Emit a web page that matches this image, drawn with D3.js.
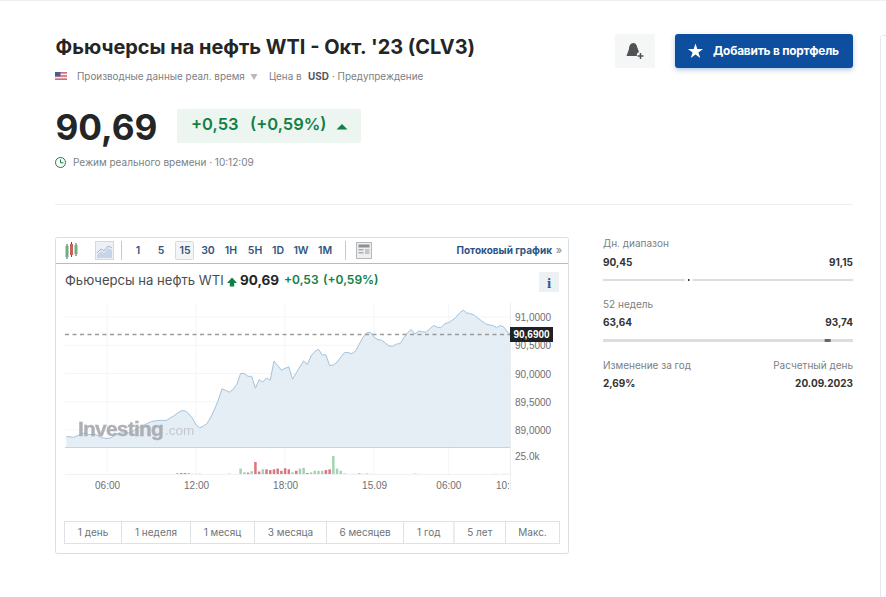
<!DOCTYPE html>
<html><head><meta charset="utf-8">
<script src="https://cdn.jsdelivr.net/npm/d3@7"></script>
<style>
html,body{margin:0;padding:0;background:#fff;overflow:hidden}
svg{display:block}
text{font-family:Inter,"Noto Sans",sans-serif}
.ax text{font-family:"Liberation Sans",Arial,sans-serif}
</style></head><body><svg id="c" width="886" height="597"></svg>
<script>
// bar index (15-minute bars) : prices, bars 1..121
const prices = [88.88,88.88,88.87,88.90,88.93,88.95,88.92,88.92,88.92,88.88,88.86,88.85,88.86,88.90,88.93,88.95,88.95,88.95,88.98,89.02,
89.06,89.09,89.12,89.15,89.16,89.17,89.17,89.17,89.21,89.25,89.30,89.34,89.34,89.29,89.21,89.09,89.04,89.07,89.12,89.23,
89.37,89.53,89.73,89.70,89.67,89.72,89.81,90.00,90.00,89.95,89.95,89.74,89.89,89.85,89.92,89.88,90.22,90.14,90.06,90.09,
90.12,89.90,90.01,90.12,90.22,90.16,90.31,90.39,90.43,90.33,90.33,90.14,90.15,90.20,90.29,90.37,90.37,90.35,90.40,90.52,
90.64,90.72,90.73,90.64,90.60,90.59,90.54,90.49,90.48,90.52,90.53,90.63,90.72,90.78,90.70,90.75,90.74,90.73,90.79,90.85,
90.82,90.81,90.88,90.90,90.94,90.99,91.07,91.12,91.07,91.06,91.03,90.98,90.93,90.88,90.86,90.85,90.81,90.85,90.82,90.73,90.69];
// volume in thousands per bar
const volumes = [.3,.2,.2,.3,.2,.4,.3,.2,.2,.2,.2,.2,.2,.2,.2,.2,.2,.2,.2,.2,
.2,.2,.3,.3,.4,.5,.5,.5,.6,.6,1.5,2,2,1.5,.8,.8,1,.6,.4,.5,
.4,.5,.8,.6,1,.5,.8,8,3,2.5,4.5,17,4,7,7,6,7,8,5,8.5,
7,3,5,8,9,2,3,5,5,5,6,7,25,8,5,1.5,.8,.8,1,2,
1,1.5,1,.6,.3,.2,.2,.2,.2,.3,.3,.2,.2,.2,1,1,.3,.6,.6,.8,
.4,.3,.3,.3,.5,.5,.2,.2,.2,.3,.3,.2,.3,.2,.2,.8,.8,.4,.9,.8,.2];
// 1 = up bar, 0 = down bar
const volumeUp = [1,1,0,1,1,1,0,0,1,0,0,0,1,1,1,1,1,1,1,1,
1,1,1,1,1,1,1,1,1,1,0,0,0,0,0,0,0,1,1,1,
1,1,1,0,0,1,1,1,1,0,1,0,0,1,0,0,0,0,0,0,
0,1,0,1,1,0,1,1,1,1,0,0,1,1,1,1,1,0,1,1,
1,1,1,0,0,0,0,0,0,1,1,1,1,1,0,1,0,0,1,1,
0,0,1,1,1,1,1,1,0,0,0,0,0,0,0,0,0,1,0,0,0];
const timeTicks = [12,36,60,84,104,120.1];
const timeLabels = ["06:00","12:00","18:00","15.09","06:00","10:00"];
const priceTicks = [89,89.5,90,90.5,91];
const volumeTicks = [25];
const lastPrice = 90.69;
const intervals = ["1","5","15","30","1H","5H","1D","1W","1M"];
const intervalX = [138,161,185,208,231,255,278,301,325];
const ranges = ["1 день","1 неделя","1 месяц","3 месяца","6 месяцев","1 год","5 лет","Макс."];
const rangeEdges = [64.5,121.5,190.5,254.5,326.5,403.5,454,505.5,559.5];
const dayRange = [90.45,91.15];
const weekRange = [63.64,93.74];

const svg = d3.select("#c");
const defs = svg.append("defs");
defs.append("clipPath").attr("id","plot").append("rect").attr("x",65).attr("y",295).attr("width",445).attr("height",200);
const shadow = defs.append("filter").attr("id","sh").attr("x","-10%").attr("y","-20%").attr("width","120%").attr("height","150%");
shadow.append("feDropShadow").attr("dx",0).attr("dy",2).attr("stdDeviation",2.5).attr("flood-color","#0f4f9e").attr("flood-opacity",.3);

function txt(s,x,y,size,fill,opt={}){
  return svg.append("text").attr("x",x).attr("y",y).attr("font-size",size).attr("fill",fill)
    .attr("font-weight",opt.w||400).attr("text-anchor",opt.a||"start")
    .attr("letter-spacing",opt.ls||null).style("font-family",opt.f||null).text(s);
}
function rect(x,y,w,h,fill,opt={}){
  return svg.append("rect").attr("x",x).attr("y",y).attr("width",w).attr("height",h).attr("fill",fill)
    .attr("rx",opt.r||0).attr("stroke",opt.s||"none").attr("stroke-width",opt.sw||1);
}
const green="#128045", grey="#7b7f83", dark="#232526";

// page frame bits
svg.append("line").attr("x1",0).attr("x2",886).attr("y1",0.5).attr("y2",0.5).attr("stroke","#eceff1");
svg.append("path").attr("d","M886,35.5H882.5a2,2 0 0 0 -2,2V597").attr("fill","none").attr("stroke","#e6e9eb");

// header
txt("Фьючерсы на нефть WTI - Окт. '23 (CLV3)",55.5,54,19.95,dark,{w:700});
rect(55,72,12,8,"#e9eef5");
rect(55,72,12,1.6,"#d96a72");rect(55,75.2,12,1.6,"#d96a72");rect(55,78.4,12,1.6,"#d96a72");
rect(55,72,5.5,4.4,"#4a5d94");
txt("Производные данные реал. время",77,80,9.9,grey);
svg.append("path").attr("d",d3.symbol(d3.symbolTriangle,22)()).attr("transform","translate(254,76) rotate(180)").attr("fill","#b6babd");
txt("Цена в",269,80,9.9,grey);
txt("USD",308,80,9.9,"#53575a",{w:700});
txt("· Предупреждение",332,80,9.9,grey);

rect(615,34,40,34,"#f5f6f6",{r:2});
svg.append("path").attr("d","M633.5,43c-3,0 -4.5,3 -4.5,6l-2.5,7h10.5c-.6,-1.5 0,-3.5 2,-4l-1.5,-4c-.4,-2 -1.5,-5 -4,-5z").attr("fill","#4f5356");
svg.append("path").attr("d","M637.5,56h6M640.5,53v6").attr("stroke","#4f5356").attr("stroke-width",1.5);
rect(675,34,178,34,"#0f4f9e",{r:3}).attr("filter","url(#sh)");
svg.append("path").attr("d",d3.symbol(d3.symbolStar,72)()).attr("transform","translate(695.5,51.5)").attr("fill","#fff");
txt("Добавить в портфель",713,55,11.85,"#fff",{w:700,ls:"-0.2"});

txt("90,69",55.5,140,35.2,dark,{w:700});
rect(177,109,184,34,"#edf5f0",{r:2});
txt("+0,53",191,130,16.5,green,{w:600});
txt("(+0,59%)",250,130,16.5,green,{w:600});
svg.append("path").attr("d","M336.5,129.5L342,124L347.5,129.5Z").attr("fill",green);
svg.append("circle").attr("cx",60.5).attr("cy",162.5).attr("r",5).attr("fill","none").attr("stroke",green).attr("stroke-width",1);
svg.append("path").attr("d","M60.5,159.5v3.3h3").attr("fill","none").attr("stroke",green).attr("stroke-width",1);
txt("Режим реального времени · 10:12:09",73,166,10,grey);
svg.append("line").attr("x1",55).attr("x2",853).attr("y1",204.5).attr("y2",204.5).attr("stroke","#eceeef");

// chart box + toolbar
rect(55.5,237.5,513,316,"#fff",{r:2,s:"#dcdfe1"});
svg.append("line").attr("x1",56).attr("x2",568).attr("y1",263.5).attr("y2",263.5).attr("stroke","#b9bcbf");
// candle icon
[[67,"#6fae7d",246,257],[71.5,"#c9605f",244,255],[76,"#6fae7d",245,254]].forEach(d=>{
  svg.append("line").attr("x1",d[0]).attr("x2",d[0]).attr("y1",d[2]-2).attr("y2",d[3]+2).attr("stroke","#555");
  rect(d[0]-1.5,d[2],3,d[3]-d[2],d[1]);
});
rect(95.5,241.5,18,18,"#edf1f6",{s:"#d5d9de"});
svg.append("path").attr("d","M97,255l4,-4 3,2 4,-5 4,2V258H97z").attr("fill","#c6d6e8");
svg.append("path").attr("d","M97,253l4,-4 3,2 4,-5 4,2").attr("fill","none").attr("stroke","#9db4cd");
svg.append("line").attr("x1",121.5).attr("x2",121.5).attr("y1",241).attr("y2",260).attr("stroke","#c6c9cc");
svg.append("line").attr("x1",345.5).attr("x2",345.5).attr("y1",241).attr("y2",260).attr("stroke","#c6c9cc");
rect(175.5,241.5,18,18,"#f4f5f6",{s:"#d8dbde",r:1});
intervals.forEach((s,i)=>txt(s,intervalX[i],254,10.5,"#33557f",{w:600,a:"middle"}));
rect(356.5,242.5,15,16,"#eef0f0",{s:"#b5b8ba"});
rect(358.5,244.5,11,3,"#8d9092");rect(358.5,249,5,1.5,"#a9acae");rect(358.5,252,5,1.5,"#a9acae");rect(365,249,4.5,5,"#c4c6c8");
txt("Потоковый график",552,254,10,"#2b5486",{w:700,a:"end"});
txt("»",559,254,11,"#6f8bab",{a:"middle"});

// legend
txt("Фьючерсы на нефть WTI",65,285,13.1,"#4a4d50");
svg.append("path").attr("d","M232,277.5l5,5.5h-2.8v3.5h-4.4V283h-2.8z").attr("fill",green);
txt("90,69",240,285,13.5,dark,{w:700});
txt("+0,53",284,284,12,green,{w:600});
txt("(+0,59%)",323,284,12,green,{w:600});
rect(539,272,20,20,"#eef1f4");
txt("i",549,288,15,"#2b5f93",{w:700,a:"middle",f:"'Liberation Serif',serif"});

// scales
const x = d3.scaleLinear().domain([0,121]).range([62.5,62.5+3.71*121]);
const y = d3.scaleLinear().domain([89,91]).range([430,317]);
const v = d3.scaleLinear().domain([0,25]).range([474.5,456]);
const baseP = y.invert(447.5);
const plotRight = 510;

// grid
const grid = svg.append("g").attr("stroke","#f4f5f6");
timeTicks.slice(0,5).forEach(t=>grid.append("line").attr("x1",x(t)).attr("x2",x(t)).attr("y1",303).attr("y2",474));
priceTicks.forEach(p=>grid.append("line").attr("x1",65).attr("x2",plotRight).attr("y1",y(p)).attr("y2",y(p)));

// area + line
const pts = prices.map((p,i)=>({i:i+1,p}));
const plot = svg.append("g").attr("clip-path","url(#plot)");
plot.append("path").datum(pts).attr("fill","#e2ebf4").attr("fill-opacity",.9)
  .attr("d",d3.area().x(d=>x(d.i)).y0(y(baseP)).y1(d=>y(d.p)));
plot.append("path").datum(pts).attr("fill","none").attr("stroke","#a3c3dd").attr("stroke-width",1)
  .attr("d",d3.line().x(d=>x(d.i)).y(d=>y(d.p)));

// watermark
const wm = svg.append("g").attr("opacity",.9);
wm.append("text").attr("x",78).attr("y",436).attr("font-size",21).attr("font-weight",700).attr("fill","#a6a9ac").attr("letter-spacing","-0.8").attr("stroke","#a6a9ac").attr("stroke-width",.4).style("font-family","'Liberation Sans',sans-serif").text("Investing");
wm.append("text").attr("x",165).attr("y",435).attr("font-size",13.5).attr("fill","#c2c5c8").style("font-family","'Liberation Sans',sans-serif").text(".com");

// base rule
svg.append("line").attr("x1",65).attr("x2",plotRight).attr("y1",447.5).attr("y2",447.5).attr("stroke","#c7d2de");
svg.append("line").attr("x1",65).attr("x2",plotRight).attr("y1",474.5).attr("y2",474.5).attr("stroke","#f0f1f2");
svg.append("line").attr("x1",plotRight+.5).attr("x2",plotRight+.5).attr("y1",303).attr("y2",490).attr("stroke","#ecedee");

// volume
plot.selectAll(".vol").data(volumes).join("rect").attr("class","vol")
  .attr("x",(d,i)=>x(i+1)-1.25).attr("width",2.5)
  .attr("y",d=>v(d)).attr("height",d=>v(0)-v(d))
  .attr("fill",(d,i)=>volumeUp[i]?"#a4d3b4":"#d9787c");

// dashed last price
svg.append("line").attr("x1",65).attr("x2",plotRight).attr("y1",y(lastPrice)).attr("y2",y(lastPrice))
  .attr("stroke","#999c9e").attr("stroke-width",1.5).attr("stroke-dasharray","4,3.5");

// axes
const fmt = d => d3.format(".4f")(d).replace(".",",");
const ax = svg.append("g").attr("class","ax");
const yg = ax.append("g").attr("transform",`translate(${plotRight+5},0)`).call(d3.axisRight(y).tickValues(priceTicks).tickFormat(fmt).tickSize(0).tickPadding(0));
yg.select(".domain").remove();
yg.selectAll("text").attr("font-size",10).attr("fill","#6d7073").attr("dy","0.36em");
const vg = ax.append("g").attr("transform",`translate(${plotRight+5},0)`).call(d3.axisRight(v).tickValues(volumeTicks).tickFormat(d=>d.toFixed(1)+"k").tickSize(0).tickPadding(0));
vg.select(".domain").remove();
vg.selectAll("text").attr("font-size",10).attr("fill","#6d7073").attr("dy","0.36em");
defs.append("clipPath").attr("id","xclip").append("rect").attr("x",60).attr("y",475).attr("width",449).attr("height",22);
const xg = ax.append("g").attr("clip-path","url(#xclip)").append("g").attr("transform","translate(0,481.5)")
  .call(d3.axisBottom(x).tickValues(timeTicks).tickFormat((d,i)=>timeLabels[i]).tickSize(0).tickPadding(0));
xg.select(".domain").remove();
xg.selectAll("text").attr("font-size",10).attr("fill","#6d7073").attr("dy","0.71em");

// last price tag
rect(510,327,43,15,"#1f2224");
svg.append("text").attr("x",531.5).attr("y",338).attr("font-size",10).attr("font-weight",700).attr("fill","#fff").attr("text-anchor","middle").style("font-family","'Liberation Sans',sans-serif").text(fmt(lastPrice));

// range buttons
ranges.forEach((s,i)=>{
  const a=rangeEdges[i],b=rangeEdges[i+1];
  rect(a,521.5,b-a,22,"#fff",{s:"#dfe2e4"});
  txt(s,(a+b)/2,536,10,"#6f7376",{a:"middle"});
});

// stats
const sx = 603, sw = 250;
function bar(yy,h,dom,mw,col){
  rect(sx,yy,sw,h,"#dcdddd");
  const s=d3.scaleLinear().domain(dom).range([sx,sx+sw]);
  if(mw<3) rect(s(lastPrice)-4,yy-1,8,h+2,"#fff");
  rect(s(lastPrice)-mw/2,yy,mw,h,col);
}
txt("Дн. диапазон",603,247,10,grey);
txt(String(dayRange[0]).replace(".",","),603,266,10,"#333",{w:700});
txt(String(dayRange[1]).replace(".",","),853,266,10,"#333",{w:700,a:"end"});
bar(279,2,dayRange,1.5,"#333");
txt("52 недель",603,308,10,grey);
txt(String(weekRange[0]).replace(".",","),603,326,10,"#333",{w:700});
txt(String(weekRange[1]).replace(".",","),853,326,10,"#333",{w:700,a:"end"});
bar(339,3,weekRange,6,"#666");
txt("Изменение за год",603,369,10,grey);
txt("Расчетный день",853,369,10,grey,{a:"end"});
txt("2,69%",603,387,10,"#333",{w:700});
txt("20.09.2023",853,387,10,"#333",{w:700,a:"end"});
</script></body></html>
